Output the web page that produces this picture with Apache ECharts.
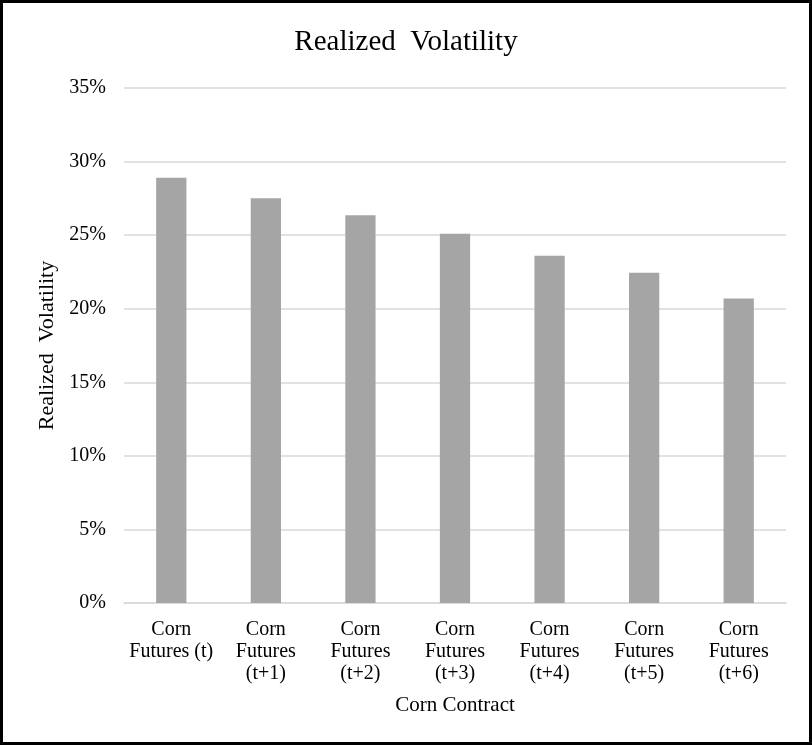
<!DOCTYPE html>
<html>
<head>
<meta charset="utf-8">
<script src="https://cdn.jsdelivr.net/npm/echarts@6/dist/echarts.min.js"></script>
<style>
  html, body { margin: 0; padding: 0; background: #fff; }
  #chart { width: 812px; height: 745px; }
</style>
</head>
<body>
<div id="chart"></div>
<script>
// Contract labels along the x axis
const categories = [
  'Corn\nFutures (t)',
  'Corn\nFutures\n(t+1)',
  'Corn\nFutures\n(t+2)',
  'Corn\nFutures\n(t+3)',
  'Corn\nFutures\n(t+4)',
  'Corn\nFutures\n(t+5)',
  'Corn\nFutures\n(t+6)'
];
// Realized volatility per contract, in percent
const volatility = [28.9, 27.5, 26.35, 25.1, 23.6, 22.45, 20.7];
// Value axis range and step, in percent
const yMin = 0;
const yMax = 35;
const yStep = 5;

const serif = '"Liberation Serif", "Times New Roman", serif';
const chart = echarts.init(document.getElementById('chart'));
chart.setOption({
  animation: false,
  backgroundColor: '#fff',
  title: {
    text: 'Realized  Volatility',
    left: 'center',
    top: 23,
    textStyle: { fontFamily: serif, fontSize: 29, fontWeight: 'normal', color: '#000' }
  },
  graphic: [{
    type: 'rect',
    shape: { x: 1.5, y: 1.5, width: 809, height: 742 },
    style: { fill: 'none', stroke: '#000', lineWidth: 3 },
    silent: true
  }],
  grid: { left: 124, right: 26, top: 88, bottom: 142 },
  xAxis: {
    type: 'category',
    data: categories,
    name: 'Corn Contract',
    nameLocation: 'middle',
    nameGap: 92,
    nameTextStyle: { fontFamily: serif, fontSize: 21, color: '#000' },
    axisLine: { lineStyle: { color: '#d9d9d9', width: 1.5 } },
    axisTick: { show: false },
    axisLabel: {
      interval: 0,
      margin: 16,
      fontFamily: serif,
      fontSize: 20,
      lineHeight: 22,
      color: '#000'
    }
  },
  yAxis: {
    type: 'value',
    min: yMin,
    max: yMax,
    interval: yStep,
    name: 'Realized  Volatility',
    nameLocation: 'middle',
    nameGap: 64,
    nameTextStyle: { fontFamily: serif, fontSize: 22, color: '#000' },
    axisLine: { show: false },
    axisTick: { show: false },
    axisLabel: {
      margin: 18,
      fontFamily: serif,
      fontSize: 20,
      color: '#000',
      formatter: v => v + '%'
    },
    splitLine: { lineStyle: { color: '#d9d9d9', width: 1.5 } }
  },
  series: [{
    type: 'bar',
    data: volatility,
    barWidth: '32%',
    itemStyle: { color: '#a5a5a5' }
  }]
});
</script>
</body>
</html>
